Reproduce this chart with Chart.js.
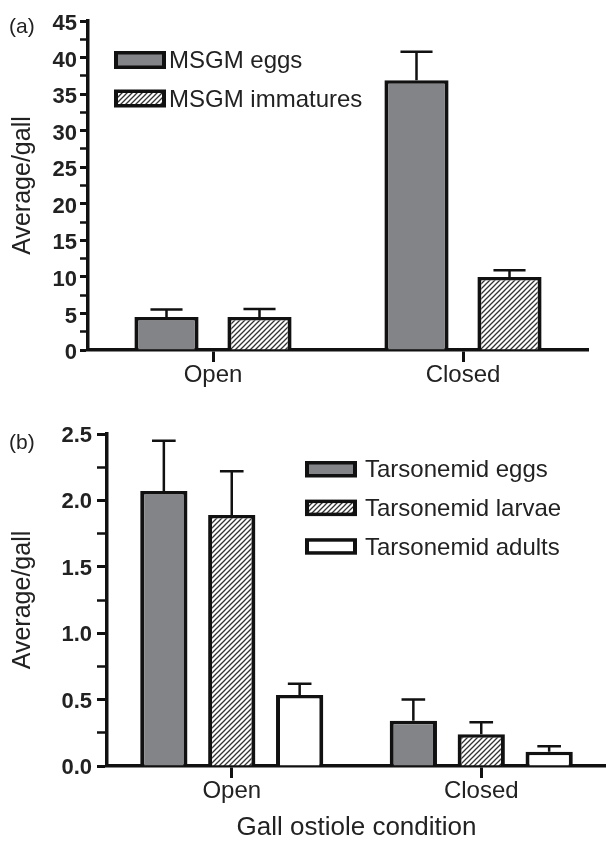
<!DOCTYPE html>
<html>
<head>
<meta charset="utf-8">
<script src="https://cdn.jsdelivr.net/npm/chart.js@4.4.0/dist/chart.umd.min.js"></script>
<style>
  html, body { margin: 0; padding: 0; background: #fff; }
  body { width: 606px; height: 841px; position: relative; overflow: hidden; font-family: "Liberation Sans", Arial, sans-serif; }
  .panel { position: absolute; left: 0; width: 606px; }
  .tag { position: absolute; left: 9px; font-size: 21px; line-height: 1; color: #222; }
</style>
</head>
<body>
<div class="panel" style="top:0;height:400px"><canvas id="chartA"></canvas></div>
<div class="panel" style="top:400px;height:441px"><canvas id="chartB"></canvas></div>
<div class="tag" style="top:15px">(a)</div>
<div class="tag" style="top:431px">(b)</div>
<script>
// shared categories
const conditions = ["Open", "Closed"];

// panel (a) - MSGM
const msgmLabels = ["MSGM eggs", "MSGM immatures"];
const msgmEggs = [4.5, 36.9];
const msgmEggsErr = [1.05, 3.9];
const msgmImm = [4.5, 10.0];
const msgmImmErr = [1.1, 0.9];
const yTicksA = ["0", "5", "10", "15", "20", "25", "30", "35", "40", "45"];

// panel (b) - Tarsonemid mites
const tarsLabels = ["Tarsonemid eggs", "Tarsonemid larvae", "Tarsonemid adults"];
const tarsEggs = [2.07, 0.34];
const tarsEggsErr = [0.38, 0.16];
const tarsLarvae = [1.89, 0.24];
const tarsLarvaeErr = [0.33, 0.09];
const tarsAdults = [0.535, 0.108];
const tarsAdultsErr = [0.085, 0.04];
const yTicksB = ["0.0", "0.5", "1.0", "1.5", "2.0", "2.5"];

const INK = "#111";
const GREY = "#838487";

Chart.defaults.font.family = '"Liberation Sans", Arial, sans-serif';
Chart.defaults.color = "#222";
Chart.defaults.animation = false;

function hatch() {
  const s = 5;
  const c = document.createElement("canvas");
  c.width = s;
  c.height = s;
  const g = c.getContext("2d");
  g.fillStyle = "#fff";
  g.fillRect(0, 0, s, s);
  g.strokeStyle = "#333";
  g.lineWidth = 1.3;
  g.beginPath();
  g.moveTo(0, s); g.lineTo(s, 0);
  g.moveTo(-1, 1); g.lineTo(1, -1);
  g.moveTo(s - 1, s + 1); g.lineTo(s + 1, s - 1);
  g.stroke();
  return g.createPattern(c, "repeat");
}
const stripes = hatch();

// upper error bars only, cap half as wide as the bar
const errorBars = {
  id: "errorBars",
  afterDatasetsDraw(chart) {
    const ctx = chart.ctx;
    const y = chart.scales.y;
    ctx.save();
    ctx.strokeStyle = INK;
    ctx.lineWidth = 2.5;
    chart.data.datasets.forEach((ds, i) => {
      chart.getDatasetMeta(i).data.forEach((bar, j) => {
        const top = y.getPixelForValue(ds.data[j] + ds.errors[j]);
        const half = bar.width / 4;
        ctx.beginPath();
        ctx.moveTo(bar.x, bar.y);
        ctx.lineTo(bar.x, top);
        ctx.moveTo(bar.x - half, top);
        ctx.lineTo(bar.x + half, top);
        ctx.stroke();
      });
    });
    ctx.restore();
  }
};

// legend drawn inside the plot, boxes with heavy outline
const boxLegend = {
  id: "boxLegend",
  afterDraw(chart, args, opts) {
    const ctx = chart.ctx;
    ctx.save();
    ctx.font = opts.font;
    ctx.textBaseline = "middle";
    chart.data.datasets.forEach((ds, i) => {
      const bx = opts.x;
      const by = opts.y + i * opts.step;
      ctx.fillStyle = INK;
      ctx.fillRect(bx, by, opts.w, opts.h);
      ctx.fillStyle = ds.backgroundColor;
      ctx.fillRect(bx + 4, by + 3.5, opts.w - 8, opts.h - 7);
      ctx.fillStyle = "#222";
      ctx.fillText(ds.label, bx + opts.w + opts.gap, by + opts.h / 2 + 1.5);
    });
    ctx.restore();
  }
};

function barSet(label, data, errors, fill) {
  return {
    label: label,
    data: data,
    errors: errors,
    backgroundColor: fill,
    borderColor: INK,
    borderWidth: { top: 3.5, left: 4, right: 4, bottom: 0 },
    borderSkipped: false
  };
}

function yAxis(max, step, major, labels, width, tickLen, pad, offs) {
  const isMajor = v => Math.abs(v / major - Math.round(v / major)) < 1e-6;
  return {
    min: 0,
    max: max,
    afterFit: s => { s.width = width; },
    border: { width: 3.5, color: INK },
    grid: {
      drawOnChartArea: false,
      tickLength: tickLen,
      tickColor: INK,
      tickWidth: c => (c.tick && isMajor(c.tick.value) ? 3 : 2.5)
    },
    ticks: {
      stepSize: step,
      maxTicksLimit: 50,
      autoSkip: false,
      padding: pad,
      labelOffset: offs,
      color: "#222",
      font: { size: 22, weight: "bold" },
      callback: v => (isMajor(v) ? labels[Math.round(v / major)] : "")
    },
    title: {
      display: true,
      text: "Average/gall",
      color: "#222",
      font: { size: 25 },
      padding: { top: 8, bottom: 0 }
    }
  };
}

function xAxis(height, title) {
  return {
    offset: true,
    z: 1,
    afterFit: s => { s.height = height; },
    border: { width: 3.5, color: INK },
    grid: { offset: false, drawOnChartArea: false, tickLength: 12, tickWidth: 3, tickColor: INK },
    ticks: { padding: 0, color: "#222", font: { size: 24, lineHeight: 1.1 } },
    title: {
      display: !!title,
      text: title || "",
      color: "#222",
      font: { size: 26, lineHeight: 1 },
      padding: { top: 0, bottom: 0 }
    }
  };
}

new Chart(document.getElementById("chartA"), {
  type: "bar",
  data: {
    labels: conditions,
    datasets: [
      barSet(msgmLabels[0], msgmEggs, msgmEggsErr, GREY),
      barSet(msgmLabels[1], msgmImm, msgmImmErr, stripes)
    ]
  },
  options: {
    responsive: true,
    maintainAspectRatio: false,
    categoryPercentage: 0.744,
    barPercentage: 0.69,
    layout: { padding: { top: 21, right: 18, bottom: 0, left: 0 } },
    scales: {
      x: xAxis(50, ""),
      y: yAxis(45, 2.5, 5, yTicksA, 88, 8, 3, 3)
    },
    plugins: {
      legend: { display: false },
      tooltip: { enabled: false },
      boxLegend: { x: 114, y: 51, w: 52, h: 18, step: 38.5, gap: 3, font: '24px "Liberation Sans", Arial, sans-serif' }
    }
  },
  plugins: [errorBars, boxLegend]
});

new Chart(document.getElementById("chartB"), {
  type: "bar",
  data: {
    labels: conditions,
    datasets: [
      barSet(tarsLabels[0], tarsEggs, tarsEggsErr, GREY),
      barSet(tarsLabels[1], tarsLarvae, tarsLarvaeErr, stripes),
      barSet(tarsLabels[2], tarsAdults, tarsAdultsErr, "#fff")
    ]
  },
  options: {
    responsive: true,
    maintainAspectRatio: false,
    categoryPercentage: 0.8165,
    barPercentage: 0.696,
    layout: { padding: { top: 34, right: 0, bottom: 0, left: 0 } },
    scales: {
      x: xAxis(75, "Gall ostiole condition"),
      y: yAxis(2.5, 0.25, 0.5, yTicksB, 107, 10, 5, 2)
    },
    plugins: {
      legend: { display: false },
      tooltip: { enabled: false },
      boxLegend: { x: 305, y: 61, w: 52, h: 16.5, step: 38.6, gap: 8, font: '24px "Liberation Sans", Arial, sans-serif' }
    }
  },
  plugins: [errorBars, boxLegend]
});
</script>
</body>
</html>
